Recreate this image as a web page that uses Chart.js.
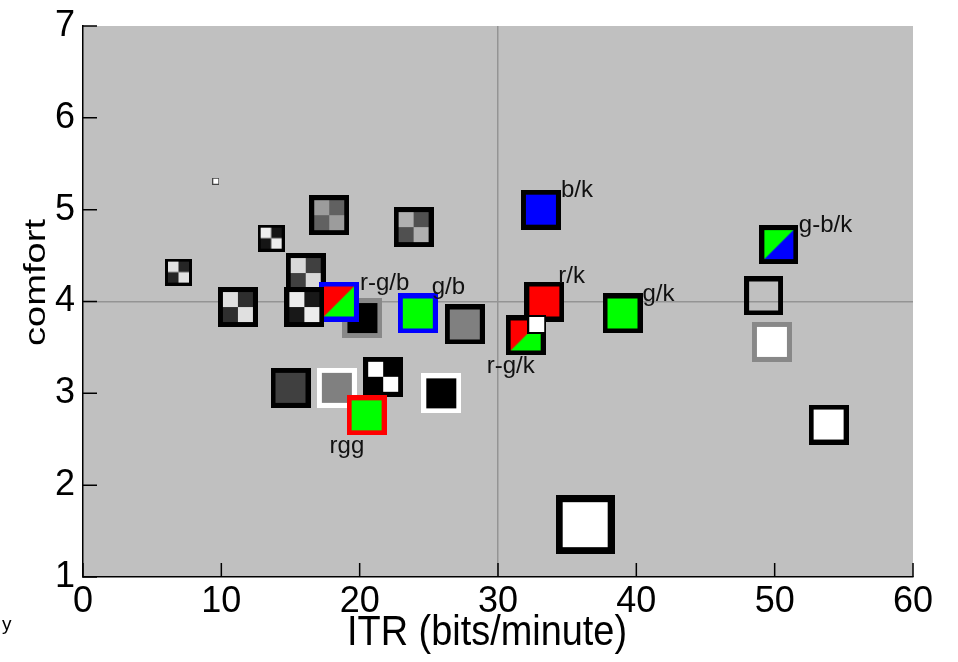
<!DOCTYPE html>
<html>
<head>
<meta charset="utf-8">
<title>comfort vs ITR</title>
<script src="https://cdn.jsdelivr.net/npm/chart.js@4.4.1/dist/chart.umd.min.js"></script>
<style>
  html, body { margin: 0; padding: 0; background: #fff; }
  #wrap { width: 958px; height: 662px; }
</style>
</head>
<body>
<div id="wrap"><canvas id="chart" width="958" height="662"></canvas></div>
<script>
// one entry per condition, in drawing order (later ones sit on top)
const itr     = [9.6, 6.9, 13.6, 17.8, 23.9, 16.1, 11.2, 20.2, 18.5, 16.0, 24.2, 27.6, 15.0, 18.35, 21.7, 20.5, 25.9, 33.1, 33.35, 32.0, 32.8, 39.0, 50.3, 49.2, 49.8, 53.9, 36.3];
const comfort = [5.31, 4.32, 4.69, 4.94, 4.81, 4.31, 3.94, 3.82, 4.0, 3.94, 3.87, 3.75, 3.06, 3.06, 3.18, 2.76, 3.0, 5.0, 4.0, 3.63, 3.75, 3.87, 4.62, 4.06, 3.56, 2.66, 1.57];
const conditionLabels = ['', '', '', '', '', '', '', '', 'r-g/b', '', 'g/b', '', '', '', '', 'rgg', '', 'b/k', 'r/k', 'r-g/k', '', 'g/k', 'g-b/k', '', '', '', ''];
const xTicks = [0, 10, 20, 30, 40, 50, 60];
const yTicks = [1, 2, 3, 4, 5, 6, 7];

const fontFamily = '"Liberation Sans", Arial, Helvetica, sans-serif';

/* marker looks, same order as the data */
const markerStyles = [
    { size: 7,  edge: '#444', bw: 1, fill: '#fff' },
    { size: 27, edge: '#000', bw: 3, checker: ['#e2e2e2', '#252525'] },
    { size: 27, edge: '#000', bw: 3, checker: ['#eeeeee', '#151515'] },
    { size: 40, edge: '#000', bw: 5, checker: ['#9c9c9c', '#616161'] },
    { size: 40, edge: '#000', bw: 5, checker: ['#b0b0b0', '#505050'] },
    { size: 40, edge: '#000', bw: 5, checker: ['#d8d8d8', '#404040'] },
    { size: 40, edge: '#000', bw: 5, checker: ['#e0e0e0', '#2e2e2e'] },
    { size: 40, edge: '#888', bw: 5, fill: '#000' },
    { size: 40, edge: '#0000ff', bw: 5, split: ['#ff0000', '#00ff00'] },
    { size: 40, edge: '#000', bw: 5, checker: ['#ececec', '#181818'] },
    { size: 40, edge: '#0000ff', bw: 5, fill: '#00ff00' },
    { size: 40, edge: '#000', bw: 5, fill: '#808080' },
    { size: 40, edge: '#000', bw: 5, fill: '#404040' },
    { size: 40, edge: '#fff', bw: 5, fill: '#808080' },
    { size: 40, edge: '#000', bw: 5, checker: ['#fff', '#000'] },
    { size: 40, edge: '#ff0000', bw: 5, fill: '#00ff00' },
    { size: 40, edge: '#fff', bw: 5, fill: '#000' },
    { size: 40, edge: '#000', bw: 5, fill: '#0000ff' },
    { size: 40, edge: '#000', bw: 5, fill: '#ff0000' },
    { size: 40, edge: '#000', bw: 5, split: ['#ff0000', '#00ff00'] },
    { size: 19, edge: '#000', bw: 2, fill: '#fff' },
    { size: 40, edge: '#000', bw: 5, fill: '#00ff00' },
    { size: 39, edge: '#000', bw: 5, split: ['#00ff00', '#0000ff'] },
    { size: 39, edge: '#000', bw: 5, fill: null },
    { size: 40, edge: '#888', bw: 5, fill: '#fff' },
    { size: 40, edge: '#000', bw: 5, fill: '#fff' },
    { size: 59, edge: '#000', bw: 7, fill: '#fff' }
];

// where a label sits relative to its marker centre (left edge, baseline)
const labelOffsets = {
    'r-g/b': [21, -12],
    'g/b':   [14, -19],
    'rgg':   [-37, 38],
    'b/k':   [20, -13],
    'r/k':   [14, -19],
    'r-g/k': [-39, 38],
    'g/k':   [20, -12],
    'g-b/k': [20, -13]
};

function makeMarker(st) {
    const c = document.createElement('canvas');
    const s = st.size, b = st.bw, inner = s - 2 * b;
    c.width = s;
    c.height = s;
    const g = c.getContext('2d');
    g.fillStyle = st.edge;
    g.fillRect(0, 0, s, s);
    if (st.checker) {
        const h = inner / 2;
        g.fillStyle = st.checker[0];
        g.fillRect(b, b, inner, inner);
        g.fillStyle = st.checker[1];
        g.fillRect(b + h, b, inner - h, h);
        g.fillRect(b, b + h, h, inner - h);
    } else if (st.split) {
        g.fillStyle = st.split[1];
        g.fillRect(b, b, inner, inner);
        g.fillStyle = st.split[0];
        g.beginPath();
        g.moveTo(b, b);
        g.lineTo(b + inner, b);
        g.lineTo(b, b + inner);
        g.closePath();
        g.fill();
    } else if (st.fill) {
        g.fillStyle = st.fill;
        g.fillRect(b, b, inner, inner);
    } else {
        g.clearRect(b, b, inner, inner);
    }
    return c;
}

function drawStretched(ctx, text, x, y, size, length, angle) {
    ctx.save();
    ctx.font = size + 'px ' + fontFamily;
    const w = ctx.measureText(text).width;
    ctx.translate(x, y);
    ctx.rotate(angle);
    ctx.scale(length / w, 1);
    ctx.textAlign = 'center';
    ctx.textBaseline = 'alphabetic';
    ctx.fillStyle = '#000';
    ctx.fillText(text, 0, 0);
    ctx.restore();
}

const plotBackground = {
    id: 'plotBackground',
    beforeDraw(chart) {
        const { ctx, chartArea: a } = chart;
        ctx.save();
        ctx.fillStyle = '#c0c0c0';
        ctx.fillRect(a.left, a.top, a.right - a.left, a.bottom - a.top);
        ctx.restore();
    }
};

// matlab style ticks, pointing into the plot
const inwardTicks = {
    id: 'inwardTicks',
    beforeDatasetsDraw(chart) {
        const { ctx, chartArea: a, scales } = chart;
        ctx.save();
        ctx.strokeStyle = '#000';
        ctx.lineWidth = 1.5;
        ctx.beginPath();
        xTicks.forEach((v) => {
            const px = scales.x.getPixelForValue(v);
            ctx.moveTo(px, a.bottom);
            ctx.lineTo(px, a.bottom - 14);
        });
        yTicks.forEach((v) => {
            const py = scales.y.getPixelForValue(v);
            ctx.moveTo(a.left, py);
            ctx.lineTo(a.left + 14, py);
        });
        ctx.stroke();
        ctx.restore();
    }
};

const pointLabels = {
    id: 'pointLabels',
    afterDatasetsDraw(chart) {
        const { ctx, scales } = chart;
        ctx.save();
        ctx.font = '24px ' + fontFamily;
        ctx.fillStyle = '#111';
        ctx.textAlign = 'left';
        ctx.textBaseline = 'alphabetic';
        conditionLabels.forEach((txt, i) => {
            if (!txt) {
                return;
            }
            const off = labelOffsets[txt];
            const px = scales.x.getPixelForValue(itr[i]);
            const py = scales.y.getPixelForValue(comfort[i]);
            ctx.fillText(txt, px + off[0], py + off[1]);
        });
        ctx.restore();
    }
};

const axisTitles = {
    id: 'axisTitles',
    afterDraw(chart) {
        const { ctx, chartArea: a } = chart;
        drawStretched(ctx, 'ITR (bits/minute)', (a.left + a.right) / 2 - 11, a.bottom + 68, 42, 280, 0);
        drawStretched(ctx, 'comfort', a.left - 38, (a.top + a.bottom) / 2 - 19, 30, 127, -Math.PI / 2);
        // cut-off piece of a neighbouring panel
        ctx.save();
        ctx.font = '19px ' + fontFamily;
        ctx.fillStyle = '#000';
        ctx.fillText('y', 2, 630);
        ctx.restore();
    }
};

const tickFont = { family: fontFamily, size: 36, lineHeight: 1 };

new Chart(document.getElementById('chart'), {
    type: 'scatter',
    data: {
        datasets: [{
            data: itr.map((x, i) => ({ x: x, y: comfort[i] })),
            pointStyle: markerStyles.map(makeMarker),
            pointRadius: markerStyles.map((s) => s.size / 2),
            showLine: false
        }]
    },
    options: {
        responsive: false,
        animation: false,
        events: [],
        // big markers would otherwise push the plot inwards
        layout: { autoPadding: false, padding: { top: 23, right: 45, left: 0, bottom: 0 } },
        plugins: {
            legend: { display: false },
            tooltip: { enabled: false }
        },
        scales: {
            x: {
                type: 'linear',
                min: 0,
                max: 60,
                afterBuildTicks: (s) => { s.ticks = xTicks.map((v) => ({ value: v })); },
                afterFit: (s) => { s.height = 85; },
                ticks: { font: tickFont, color: '#000', padding: 7, maxRotation: 0, autoSkip: false },
                grid: {
                    drawTicks: false,
                    lineWidth: 1.5,
                    color: (c) => (c.tick && c.tick.value === 30 ? '#949494' : 'rgba(0,0,0,0)')
                },
                border: { display: true, color: '#000', width: 1.5 }
            },
            y: {
                type: 'linear',
                min: 1,
                max: 7,
                afterBuildTicks: (s) => { s.ticks = yTicks.map((v) => ({ value: v })); },
                afterFit: (s) => { s.width = 83; },
                ticks: { font: tickFont, color: '#000', padding: 8, autoSkip: false },
                grid: {
                    drawTicks: false,
                    lineWidth: 1.5,
                    color: (c) => (c.tick && c.tick.value === 4 ? '#949494' : 'rgba(0,0,0,0)')
                },
                border: { display: true, color: '#000', width: 1.5 }
            }
        }
    },
    plugins: [plotBackground, inwardTicks, pointLabels, axisTitles]
});
</script>
</body>
</html>
